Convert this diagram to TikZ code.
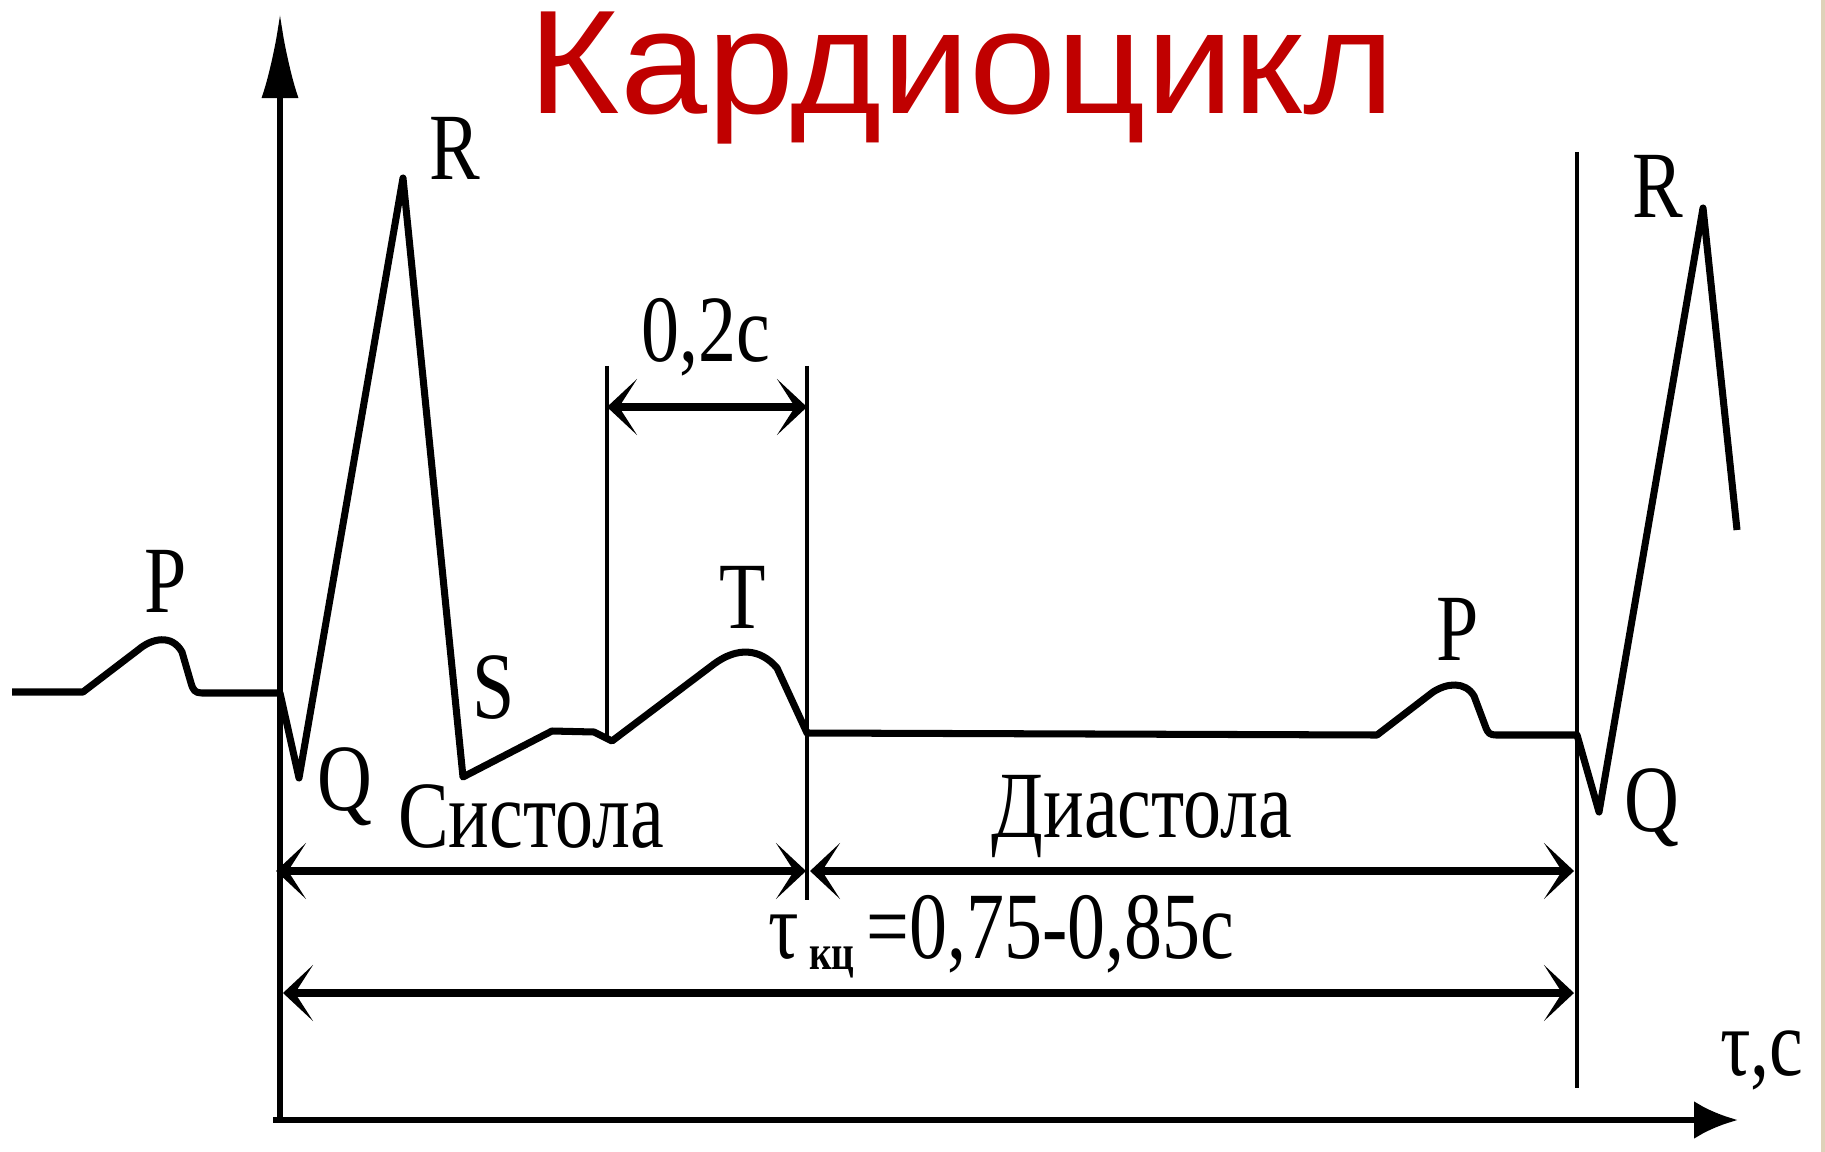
\documentclass[tikz,border=0pt]{standalone}
\usepackage{fontspec}
\setmainfont{Liberation Serif}
\newfontfamily\ttlfont{Liberation Sans}[FakeStretch=1.06]
\newfontfamily\lblfont{Liberation Serif}[FakeStretch=0.8]
\usetikzlibrary{arrows.meta}
\definecolor{titlered}{RGB}{192,0,0}
\definecolor{edgebeige}{RGB}{222,210,185}
\tikzset{
  ecg/.style={line width=2pt,line join=round},
  yaxis/.style={line width=1.7pt,-{Latex[length=0.84cm,width=0.37cm]}},
  xaxis/.style={line width=1.8pt,-{Latex[length=0.44cm,width=0.38cm]}},
  guide/.style={line width=1.1pt},
  dim/.style={line width=2pt,
    {Stealth[length=0.3cm,width=0.56cm,inset=0.18cm]}-{Stealth[length=0.3cm,width=0.56cm,inset=0.18cm]}},
  wave/.style={font=\lblfont\fontsize{27}{27}\selectfont,inner sep=0pt,anchor=base},
  ttl/.style={font=\ttlfont\fontsize{42}{42}\selectfont,text=titlered,inner sep=0pt,anchor=base},
}

\begin{document}
\begin{tikzpicture}[x=0.01cm,y=-0.01cm]
  \useasboundingbox (0,0) rectangle (1825,1152);
  \fill[edgebeige] (1821,0) rectangle (1825,1152);

  \node[ttl] (title) at (962,114) {Кардиоцикл};

  % axes and guide lines
  \coordinate (o) at (280,1120);
  \coordinate (ytip) at (280,14);
  \coordinate (xstart) at (273,1120);
  \coordinate (xtip) at (1738,1120);
  \coordinate (bar1) at (1577,152);
  \coordinate (bar2) at (1577,1088);
  \coordinate (a1) at (607,366);
  \coordinate (a2) at (607,739);
  \coordinate (b1) at (807,366);
  \coordinate (b2) at (807,900);
  \draw[yaxis] (o) -- (ytip);
  \draw[xaxis] (xstart) -- (xtip);
  \draw[guide,line width=1.3pt] (bar1) -- (bar2);
  \draw[guide] (a1) -- (a2);
  \draw[guide] (b1) -- (b2);

  % ecg trace
  \draw[ecg] (12,692) -- (83,692) -- (138,650) .. controls (152,638) and (172,634) .. (182,652)
    -- (191,683) .. controls (193,690) and (195,693) .. (202,693) -- (280,693)
    -- (299,778) -- (403,178) -- (463,777) -- (552,731) -- (594,732) -- (612,741)
    -- (714,664) .. controls (737,647) and (760,648) .. (777,668) -- (807,733)
    -- (1377,735) -- (1433,692) .. controls (1447,683) and (1465,681) .. (1474,696)
    -- (1486,728) .. controls (1488,733) and (1490,735) .. (1496,735) -- (1577,735)
    -- (1599,812) -- (1703,208) -- (1737,530);

  % dimension arrows
  \coordinate (d1) at (607,407);
  \coordinate (d2) at (807,407);
  \coordinate (s1) at (276,871);
  \coordinate (s2) at (806,871);
  \coordinate (s3) at (810,871);
  \coordinate (s4) at (1574,871);
  \coordinate (c1) at (283,993);
  \coordinate (c2) at (1574,993);
  \draw[dim] (d1) -- (d2);
  \draw[dim] (s1) -- (s2);
  \draw[dim] (s3) -- (s4);
  \draw[dim] (c1) -- (c2);

  % labels
  \node[wave] (pL) at (166,612) {P};
  \node[wave] (rL) at (455,180) {R};
  \node[wave] (qL) at (345,810) {Q};
  \node[wave] (sW) at (494,718) {S};
  \node[wave] (tW) at (743,628) {T};
  \node[wave] (pR) at (1458,660) {P};
  \node[wave] (rR) at (1658,218) {R};
  \node[wave] (qR) at (1652,831) {Q};
  \node[wave] (sys) at (531,847) {Систола};
  \node[wave] (dia) at (1142,837) {Диастола};
  \node[wave] (dt) at (706,362) {0,2c};
  \node[wave,anchor=base west] (tkc) at (768,958)
    {τ\kern0.1cm\raisebox{-0.11cm}{\fontsize{14}{14}\selectfont\bfseries кц}\kern0.12cm=0,75-0,85c};
  \node[wave] (tc) at (1762,1075) {τ,c};
\end{tikzpicture}
\end{document}
